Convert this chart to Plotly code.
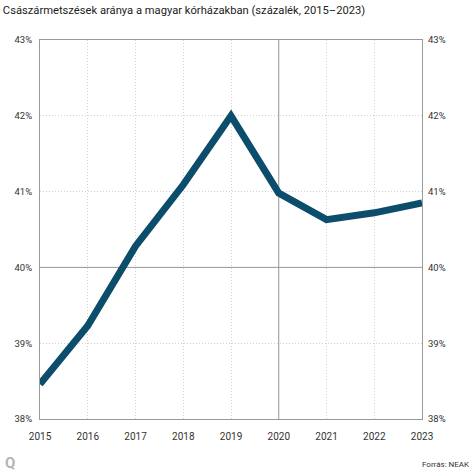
import plotly.graph_objects as go

years = [2015, 2016, 2017, 2018, 2019, 2020, 2021, 2022, 2023]
rates = [38.46, 39.23, 40.28, 41.09, 42.0, 40.98, 40.63, 40.72, 40.85]
ytick_vals = [38, 39, 40, 41, 42, 43]
ytick_text = ["38%", "39%", "40%", "41%", "42%", "43%"]

title = "Császármetszések aránya a magyar kórházakban (százalék, 2015\u20132023)"
source = "Forrás: NEAK"
FONT = "Roboto, Arial, sans-serif"

fig = go.Figure()
fig.add_trace(go.Scatter(x=years, y=rates, mode="lines",
                         line=dict(color="#0b4d6b", width=7),
                         hoverinfo="skip", showlegend=False))
fig.add_trace(go.Scatter(x=years, y=rates, yaxis="y2", mode="lines",
                         line=dict(color="rgba(0,0,0,0)", width=0),
                         hoverinfo="skip", showlegend=False))

fig.update_layout(
    width=474, height=474,
    margin=dict(l=40, r=52, t=40, b=55),
    paper_bgcolor="white", plot_bgcolor="white",
    title=dict(text=title, x=0.006, xanchor="left", y=0.979, yanchor="middle",
               font=dict(family=FONT, size=11.2, color="#222")),
    xaxis=dict(range=[2015, 2023], tickvals=years, ticktext=[str(y) for y in years],
               showgrid=True, gridcolor="#d0d0d0", griddash="1px,2px", gridwidth=1,
               showline=True, linecolor="#999", linewidth=1, mirror=True,
               zeroline=False, ticks="", tickfont=dict(family=FONT, size=10, color="#333"),
               ticklabelstandoff=8),
    yaxis=dict(range=[38, 43], tickvals=ytick_vals, ticktext=ytick_text,
               showgrid=True, gridcolor="#d0d0d0", griddash="1px,2px", gridwidth=1,
               showline=True, linecolor="#999", linewidth=1, mirror=True,
               zeroline=False, ticks="", tickfont=dict(family=FONT, size=9.5, color="#333"),
               ticklabelstandoff=5),
    yaxis2=dict(range=[38, 43], tickvals=ytick_vals, ticktext=ytick_text,
                overlaying="y", side="right", showgrid=False, zeroline=False,
                showline=False, ticks="",
                tickfont=dict(family=FONT, size=9.5, color="#333"),
                ticklabelstandoff=5),
    shapes=[
        dict(type="line", xref="x", yref="y", x0=2015, x1=2023, y0=40, y1=40,
             line=dict(color="#999", width=1), layer="between"),
        dict(type="line", xref="x", yref="y", x0=2020, x1=2020, y0=38, y1=43,
             line=dict(color="#999", width=1), layer="between"),
    ],
    annotations=[
        dict(text="<b>Q</b>", xref="paper", yref="paper", xanchor="left",
             yanchor="middle", showarrow=False,
             font=dict(family=FONT, size=15, color="#b5b5b5")),
        dict(text=source, xref="paper", yref="paper", xanchor="right",
             yanchor="middle", showarrow=False,
             font=dict(family=FONT, size=8, color="#333")),
    ],
)

# place footer items in pixel terms relative to plot area
plot_w = 474 - 40 - 52
plot_h = 474 - 40 - 55
fig.layout.annotations[0].x = (3 - 40) / plot_w
fig.layout.annotations[0].y = (419 - 463) / plot_h
fig.layout.annotations[1].x = (472 - 40) / plot_w
fig.layout.annotations[1].y = (419 - 464) / plot_h

fig.write_html("out.html", config={"displayModeBar": False},
               post_script="document.body.style.margin='0';")
